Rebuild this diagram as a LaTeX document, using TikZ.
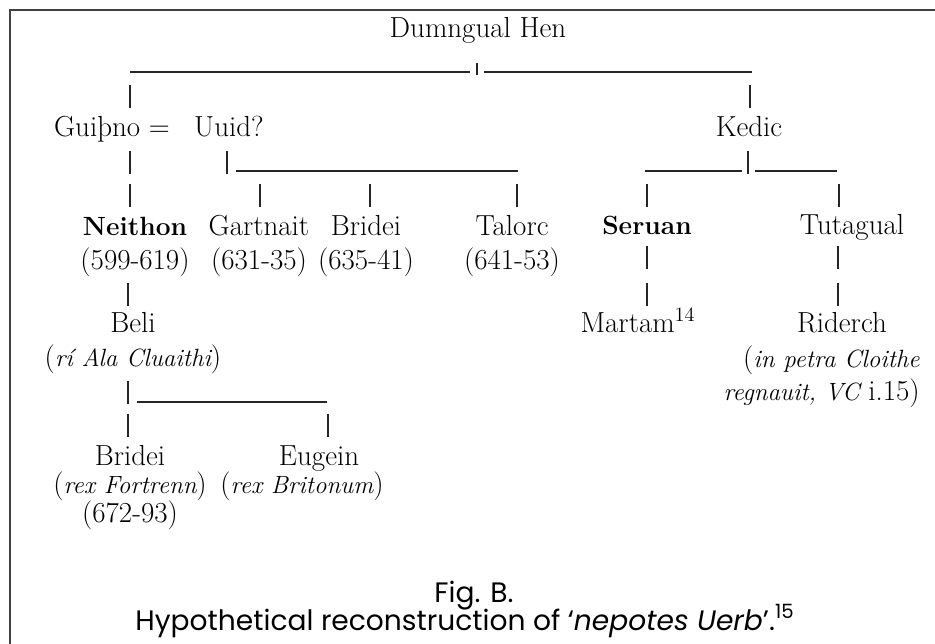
\documentclass[tikz,border=0pt]{standalone}
\usepackage{fontspec}
\newfontfamily\capfont{Poppins}
\usetikzlibrary{calc}
\newcommand\ital[1]{{\fontsize{14.2}{19.5}\selectfont\itshape #1}}
\newcommand\bold[1]{{\fontsize{15}{19.5}\selectfont\bfseries #1}}
\tikzset{
  person/.style={anchor=base, inner sep=0pt, font=\fontsize{16.5}{19.5}\selectfont},
  caption/.style={anchor=base, inner sep=0pt, font=\capfont\fontsize{16}{19}\selectfont},
  bar/.style={line width=0.7pt, black!85},
  frame/.style={line width=0.9pt, black!75}
}
\def\tick(#1,#2){\draw[bar] (#1,#2) -- (#1,#2+23);}

\begin{document}
\begin{tikzpicture}[x=0.02cm, y=-0.02cm]
			%%%%% START %%%%%
			\useasboundingbox (0,0) rectangle (935,644);
			\draw[frame] (10,644) -- (10,10) -- (935,10);
			
			% generation 1
			\node[person] (dumngual) at (478,38) {Dumngual Hen};
			\coordinate (top-l) at (130,72);
			\coordinate (top-r) at (752,72);
			\draw[bar] (top-l) -- (470,72);
			\draw[bar] (477,63) -- (477,75);
			\draw[bar] (484,72) -- (top-r);
			\tick(130,85)
			\tick(750,85)
			
			% generation 2
			\node[person] (guithno) at (112,137) {Guiþno =};
			\node[person] (uuid) at (229,137) {Uuid?};
			\node[person] (kedic) at (749,137) {Kedic};
			
			\tick(130,151)
			\tick(130,184)
			\draw[bar] (227,151) -- (227,174);
			\coordinate (uuid-l) at (236,171);
			\coordinate (uuid-r) at (518,171);
			\draw[bar] (uuid-l) -- (uuid-r);
			\foreach \x in {260,370,517} {\tick(\x,184)}
			
			\coordinate (kedic-l) at (645,171);
			\coordinate (kedic-r) at (837,171);
			\draw[bar] (kedic-l) -- (742,171);
			\draw[bar] (748,151) -- (748,174);
			\draw[bar] (755,171) -- (kedic-r);
			\foreach \x in {647,839} {\tick(\x,184)}
			
			% generation 3 (base = last line)
			\node[person, align=center] (neithon) at (135,270) {\bold{Neithon}\\(599-619)};
			\node[person, align=center] (gartnait) at (259,270) {Gartnait\\(631-35)};
			\node[person, align=center] (bridei1) at (366,270) {Bridei\\(635-41)};
			\node[person, align=center] (talorc) at (512,270) {Talorc\\(641-53)};
			\node[person] (seruan) at (647,235) {\bold{Seruan}};
			\node[person] (tutagual) at (852,235) {Tutagual};
			
			\tick(128,283)
			\tick(647,246)
			\tick(647,283)
			\tick(838,246)
			\tick(838,283)
			
			% generation 4
			\node[person, align=center] (beli) at (133,367) {Beli\\(\ital{rí Ala Cluaithi})};
			\node[person] (martam) at (638,333) {Martam\textsuperscript{14}};
			\node[person] (riderch) at (842,333) {Riderch};
			\node[person, anchor=base east, align=right] (riderch-note) at (920,400)
			  {(\ital{in petra Cloithe}\\[-1pt]\ital{regnauit, VC} i.15)};
			
			\draw[bar] (128,381) -- (128,404);
			\coordinate (beli-l) at (137,402);
			\coordinate (beli-r) at (327,402);
			\draw[bar] (beli-l) -- (beli-r);
			\tick(128,414)
			\tick(328,414)
			
			% generation 5
			\node[person, align=center] (bridei2) at (130,522)
			  {Bridei\\[-3.3pt](\ital{rex Fortrenn})\\[-3.3pt](672-93)};
			\node[person] (eugein) at (319,465) {Eugein};
			\node[person] (eugein-note) at (302,493) {(\ital{rex Britonum})};
			
			% caption
			\node[caption] (fig) at (474,602) {Fig. B.};
			\node[caption] (cap-text) at (465,630)
			  {Hypothetical reconstruction of ‘\textit{nepotes Uerb}’.\textsuperscript{15}};
			%%%%% END %%%%%
		\end{tikzpicture}
\end{document}
